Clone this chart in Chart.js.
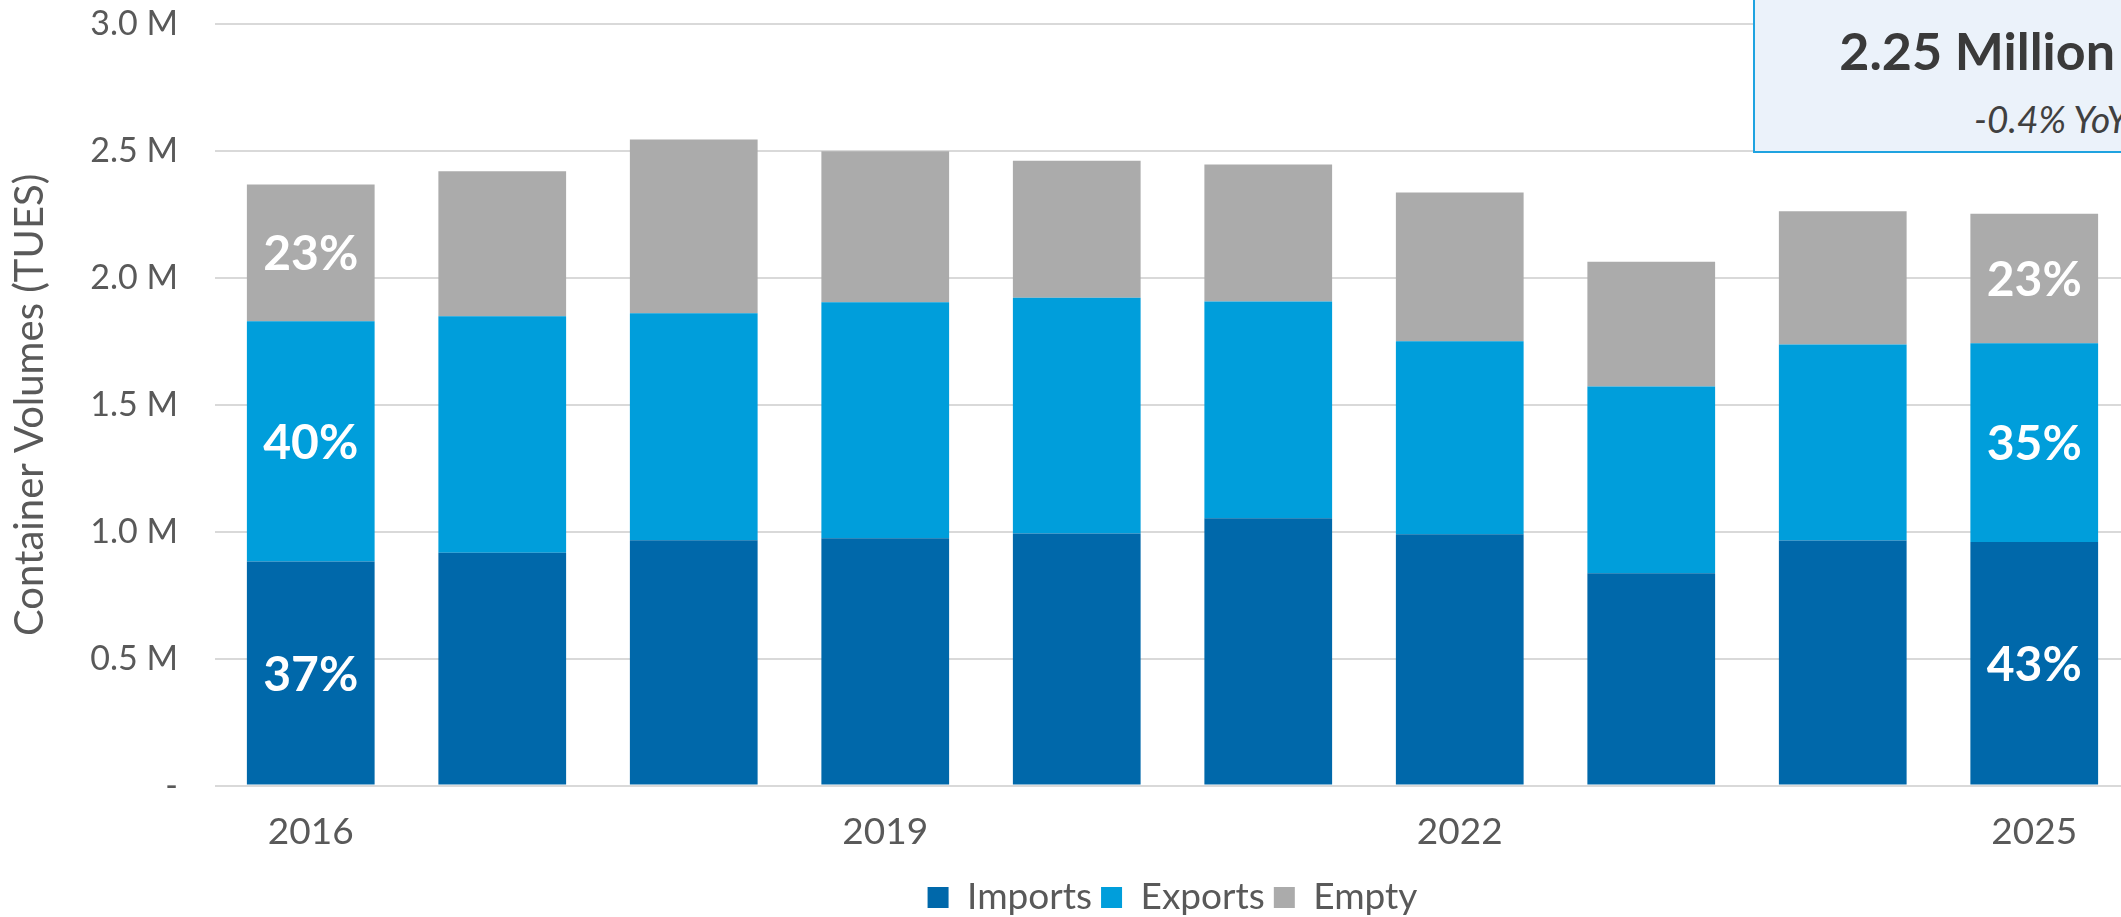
<!DOCTYPE html>
<html>
<head>
<meta charset="utf-8">
<title>Container Volumes</title>
<script src="https://cdn.jsdelivr.net/npm/chart.js@4.4.1/dist/chart.umd.min.js"></script>
<style>
  html, body { margin: 0; padding: 0; background: #fff; overflow: hidden; }
  #wrap { position: relative; width: 2135px; height: 917px; }
  #summary {
    position: absolute; left: 1753px; top: -4px; width: 420px; height: 157px;
    box-sizing: border-box; background: #ebf2fa; border: 2px solid #1fa3e0;
  }
  #total { position: absolute; right: 20px; top: 24px; font: bold 52px Lato; line-height: 1; color: #3a3a3a; white-space: nowrap; }
  #yoy { position: absolute; right: 7px; top: 100px; font: italic 37px Lato; line-height: 1; color: #404040; white-space: nowrap; }
</style>
</head>
<body>
<div id="wrap">
  <canvas id="volumes"></canvas>
  <div id="summary"></div>
  <div id="total"></div>
  <div id="yoy"></div>
</div>
<script>
/* globals Chart:false */

// TEU volumes in millions, per year
const years = ['2016', '2017', '2018', '2019', '2020', '2021', '2022', '2023', '2024', '2025'];
const imports = [0.883, 0.917, 0.966, 0.974, 0.993, 1.053, 0.990, 0.836, 0.965, 0.960];
const exportVols = [0.946, 0.932, 0.895, 0.930, 0.929, 0.854, 0.760, 0.736, 0.773, 0.782];
const empty = [0.539, 0.571, 0.684, 0.595, 0.539, 0.540, 0.586, 0.491, 0.524, 0.511];
const labelledYears = ['2016', '2019', '2022', '2025'];

const textColor = '#595959';
const font = 'Lato';

const totals = years.map((_, i) => imports[i] + exportVols[i] + empty[i]);
const last = years.length - 1;

// headline box: latest total and change on prior year
document.getElementById('total').textContent = totals[last].toFixed(2) + ' Million';
document.getElementById('yoy').textContent =
  ((totals[last] / totals[last - 1] - 1) * 100).toFixed(1) + '% YoY';

// share of each segment, written inside the first and last bars
const segmentLabels = {
  id: 'segmentLabels',
  afterDatasetsDraw(chart) {
    const ctx = chart.ctx;
    ctx.save();
    ctx.font = 'bold 48px ' + font;
    ctx.fillStyle = '#fff';
    ctx.textAlign = 'center';
    ctx.textBaseline = 'middle';
    [0, last].forEach(i => {
      chart.data.datasets.forEach((ds, d) => {
        const bar = chart.getDatasetMeta(d).data[i];
        const pct = Math.round(ds.data[i] / totals[i] * 100) + '%';
        ctx.fillText(pct, bar.x, (bar.y + bar.base) / 2 + 2);
      });
    });
    ctx.restore();
  }
};

const barStyle = { barPercentage: 0.667, categoryPercentage: 1, borderWidth: 0 };

const ctx = document.getElementById('volumes').getContext('2d');
new Chart(ctx, {
  type: 'bar',
  data: {
    labels: years,
    datasets: [
      { label: 'Imports', data: imports, backgroundColor: '#0068aa', ...barStyle },
      { label: 'Exports', data: exportVols, backgroundColor: '#009edb', ...barStyle },
      { label: 'Empty', data: empty, backgroundColor: '#ababab', ...barStyle }
    ]
  },
  options: {
    responsive: true,
    maintainAspectRatio: false,
    animation: false,
    layout: { padding: { left: 0, right: 5, top: 24, bottom: -9 } },
    plugins: {
      tooltip: { enabled: false },
      legend: {
        position: 'bottom',
        fullSize: false,
        labels: {
          boxWidth: 21,
          boxHeight: 21,
          padding: 9,
          color: textColor,
          font: { family: font, size: 37 }
        }
      }
    },
    scales: {
      x: {
        stacked: true,
        grid: { display: false },
        border: { display: false },
        ticks: {
          autoSkip: false,
          maxRotation: 0,
          padding: 16,
          color: textColor,
          font: { family: font, size: 37 },
          callback: (val, i) => labelledYears.includes(years[i]) ? years[i] : ''
        }
      },
      y: {
        stacked: true,
        min: 0,
        max: 3,
        afterFit(scale) {
          scale.width = 215;
          scale.paddingTop = 0;
          scale.paddingBottom = 0;
        },
        grid: { color: '#d9d9d9', lineWidth: 2, drawTicks: false },
        border: { display: false },
        ticks: {
          stepSize: 0.5,
          padding: 37,
          color: textColor,
          font: { family: font, size: 34 },
          callback: v => v === 0 ? '-' : v.toFixed(1) + ' M'
        },
        title: {
          display: true,
          text: 'Container Volumes (TUES)',
          color: textColor,
          font: { family: font, size: 40 },
          padding: { top: 6, bottom: 0 }
        }
      }
    }
  },
  plugins: [segmentLabels]
});
</script>
</body>
</html>
